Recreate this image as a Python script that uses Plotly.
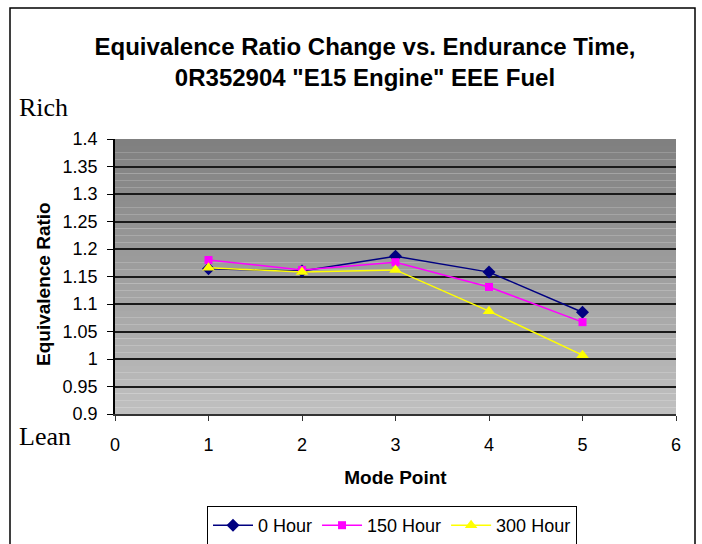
import plotly.graph_objects as go

mode_points = [1, 2, 3, 4, 5]
hour_0 = [1.164, 1.160, 1.187, 1.158, 1.085]
hour_150 = [1.180, 1.162, 1.176, 1.131, 1.067]
hour_300 = [1.166, 1.158, 1.162, 1.087, 1.007]
y_ticks = [0.9, 0.95, 1.0, 1.05, 1.1, 1.15, 1.2, 1.25, 1.3, 1.35, 1.4]
y_tick_labels = ["0.9", "0.95", "1", "1.05", "1.1", "1.15", "1.2", "1.25", "1.3", "1.35", "1.4"]
x_ticks = [0, 1, 2, 3, 4, 5, 6]

W, H = 702, 544
L, R, T, B = 115, 26, 139, 130
pw, ph = W - L - R, H - T - B


def px_x(p):
    return (p - L) / pw


def px_y(p):
    return (H - B - p) / ph


fig = go.Figure()
fig.add_trace(go.Scatter(x=mode_points, y=hour_0, name="0 Hour", mode="lines+markers",
                         line=dict(color="#000080", width=1.5),
                         marker=dict(symbol="diamond", size=10, color="#000080")))
fig.add_trace(go.Scatter(x=mode_points, y=hour_150, name="150 Hour", mode="lines+markers",
                         line=dict(color="#FF00FF", width=1.5),
                         marker=dict(symbol="square", size=8, color="#FF00FF")))
fig.add_trace(go.Scatter(x=mode_points, y=hour_300, name="300 Hour", mode="lines+markers",
                         line=dict(color="#FFFF00", width=1.5),
                         marker=dict(symbol="triangle-up", size=11, color="#FFFF00")))

shapes = []
# vertical gradient background of plot area
n = 40
for i in range(n):
    t = i / (n - 1)
    c = int(0xC0 + (0x80 - 0xC0) * t)
    shapes.append(dict(type="rect", xref="x domain", yref="y domain",
                       x0=0, x1=1, y0=i / n, y1=(i + 1) / n,
                       fillcolor=f"rgb({c},{c},{c})", line=dict(width=0), layer="below"))
# outer frame
shapes.append(dict(type="rect", xref="paper", yref="paper",
                   x0=px_x(10), x1=px_x(695), y0=px_y(560), y1=px_y(8),
                   line=dict(color="black", width=1.5), fillcolor="rgba(0,0,0,0)"))

fig.update_layout(
    width=W, height=H,
    margin=dict(l=L, r=R, t=T, b=B, autoexpand=False),
    paper_bgcolor="white",
    plot_bgcolor="rgba(0,0,0,0)",
    shapes=shapes,
    font=dict(family="Liberation Sans, Arial", size=18, color="black"),
    title=dict(text="<b>Equivalence Ratio Change vs. Endurance Time,<br>0R352904 \"E15 Engine\" EEE Fuel</b>",
               x=365 / W, xanchor="center", y=1 - 55 / H, yanchor="middle",
               font=dict(size=24, family="Liberation Sans, Arial")),
    showlegend=True,
    legend=dict(orientation="h", x=px_x(392), xanchor="center", y=px_y(506), yanchor="top",
                bordercolor="black", borderwidth=1, bgcolor="white",
                font=dict(size=18), itemwidth=40, tracegroupgap=0),
    xaxis=dict(range=[0, 6], tickvals=x_ticks, ticks="outside", ticklen=5,
               tickcolor="#333", showline=True, linecolor="#333", linewidth=1.5,
               showgrid=False, zeroline=False, ticklabelstandoff=9,
               title=dict(text="<b>Mode Point</b>", font=dict(size=19), standoff=16)),
    yaxis=dict(range=[0.9, 1.4], tickvals=y_ticks, ticktext=y_tick_labels,
               ticks="outside", ticklen=6, tickcolor="black", showline=True,
               linecolor="black", linewidth=1.5, showgrid=True, gridcolor="#1a1a1a",
               gridwidth=1.5, zeroline=False, ticklabelstandoff=6),
    annotations=[
        dict(text="<b>Equivalence Ratio</b>", xref="paper", yref="paper",
             x=px_x(43), y=px_y(284), textangle=-90, showarrow=False,
             font=dict(size=19), xanchor="center", yanchor="middle"),
        dict(text="Rich", xref="paper", yref="paper", x=px_x(17), y=px_y(108),
             xanchor="left", yanchor="middle", showarrow=False,
             font=dict(family="Liberation Serif, Times New Roman", size=26)),
        dict(text="Lean", xref="paper", yref="paper", x=px_x(17), y=px_y(436),
             xanchor="left", yanchor="middle", showarrow=False,
             font=dict(family="Liberation Serif, Times New Roman", size=26)),
    ],
)

fig.write_html("out.html", config={"displayModeBar": False},
               post_script="document.body.style.margin='0';")
